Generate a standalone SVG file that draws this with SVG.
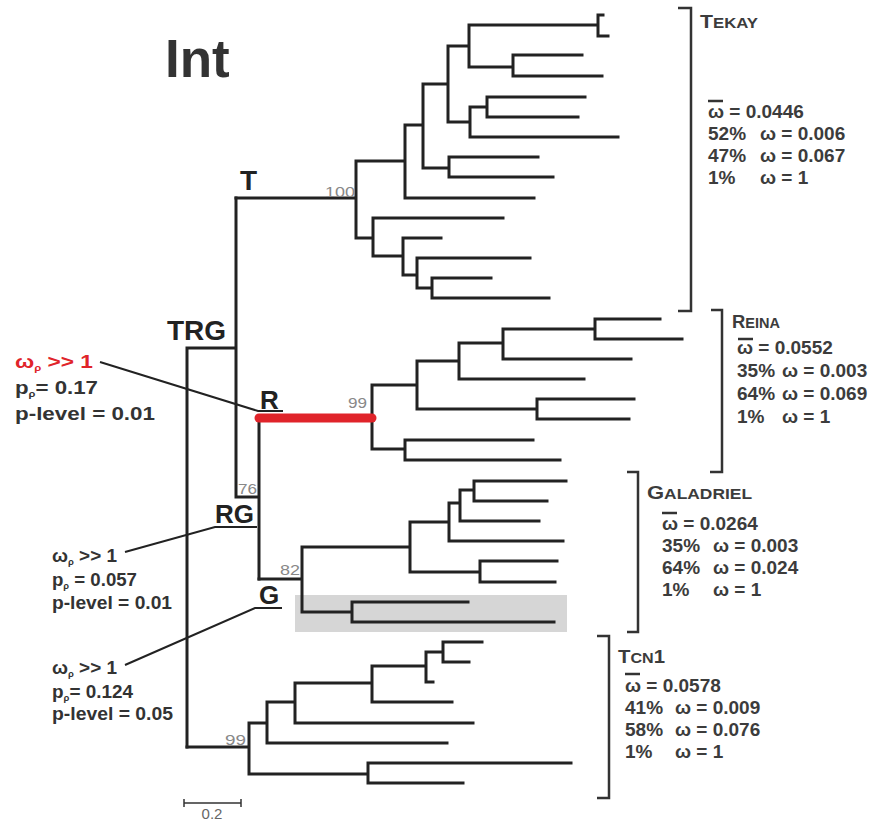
<svg xmlns="http://www.w3.org/2000/svg" width="881" height="824" viewBox="0 0 881 824">
<style>
.tree{fill:none;stroke:#222;stroke-width:3;stroke-linecap:square}
.red{fill:none;stroke:#e0242a;stroke-width:9;stroke-linecap:round}
.lead{fill:none;stroke:#222;stroke-width:2}
.brk{fill:none;stroke:#333;stroke-width:2.5}
.sup{font-family:"Liberation Sans",Arial,sans-serif;font-size:15px;fill:#888}
.node{font-family:"Liberation Sans",Arial,sans-serif;font-weight:bold;fill:#222}
.lab{font-family:"Liberation Sans",Arial,sans-serif;font-weight:bold;font-size:18px;fill:#333}
.stat{font-family:"Liberation Sans",Arial,sans-serif;font-weight:bold;font-size:19px;fill:#3c3c3c}
.hdr{font-family:"Liberation Sans",Arial,sans-serif;font-weight:bold;font-size:19px;fill:#3c3c3c}
.bar{fill:none;stroke:#333;stroke-width:1.5}
</style>
<rect width="881" height="824" fill="#fff"/>
<text x="165" y="77" font-family="Liberation Sans, Arial, sans-serif" font-weight="bold" font-size="53" fill="#333">Int</text>
<rect id="highlight" x="295" y="595" width="272" height="37" fill="#d6d6d6"/>
<g id="connectors">
<path class="tree" d="M187,348 V747 M187,348 H236 M236,198 V497 M236,497 H259 M259,418 V579"/>
<g id="clade-T">
<path class="tree" d="M236,198 H356 M356,161 V238 M356,161 H405 M405,125 V198 M405,198 H534 M405,125 H423 M423,84 V168 M423,84 H448 M448,46 V122 M448,46 H469 M469,25 V67 M469,25 H598 M598,15 V36 M598,15 H603 M598,36 H608 M469,67 H513 M513,55 V76 M513,55 H582 M513,76 H602 M448,122 H470 M470,107 V137 M470,107 H487 M487,97 V117 M487,97 H585 M487,117 H578 M470,137 H618 M423,168 H449 M449,157 V177 M449,157 H538 M449,177 H553 M356,238 H373 M373,218 V256 M373,218 H503 M373,256 H403 M403,238 V275 M403,238 H441 M403,275 H417 M417,258 V288 M417,258 H530 M417,288 H432 M432,278 V298 M432,278 H491 M432,298 H549"/>
</g>
<g id="clade-R">
<path class="tree" d="M372,385 V449 M372,385 H417 M417,361 V409 M417,361 H459 M459,343 V379 M459,343 H503 M503,329 V359 M503,329 H595 M595,319 V339 M595,319 H660 M595,339 H682 M503,359 H631 M459,379 H584 M417,409 H537 M537,399 V419 M537,399 H634 M537,419 H629 M372,449 H405 M405,440 V460 M405,440 H533 M405,460 H560"/>
<path class="red" d="M259,418 H372"/>
</g>
<g id="clade-G">
<path class="tree" d="M259,579 H302 M302,547 V612 M302,547 H410 M410,522 V572 M410,522 H449 M449,503 V541 M449,503 H460 M460,490 V521 M460,490 H474 M474,481 V501 M474,481 H566 M474,501 H547 M460,521 H539 M449,541 H563 M410,572 H480 M480,561 V582 M480,561 H557 M480,582 H555 M302,612 H352 M352,602 V622 M352,602 H468 M352,622 H554"/>
</g>
<g id="clade-Tcn1">
<path class="tree" d="M187,747 H249 M249,723 V774 M249,723 H267 M267,702 V743 M267,702 H295 M295,683 V723 M295,683 H372 M372,666 V702 M372,666 H426 M426,652 V682 M426,652 H443 M443,642 V662 M443,642 H482 M443,662 H469 M426,682 H433 M372,702 H452 M295,723 H473 M267,743 H447 M249,774 H368 M368,763 V783 M368,763 H571 M368,783 H463"/>
</g>
<polyline class="lead" points="100,362 258,411 283,411"/>
<polyline class="lead" points="125,552 215,527 257,527"/>
<polyline class="lead" points="125,665 255,608 282,608"/>
</g>
<g id="supports">
<text class="sup" x="325" y="197" textLength="30" lengthAdjust="spacingAndGlyphs">100</text>
<text class="sup" x="348" y="408" textLength="19" lengthAdjust="spacingAndGlyphs">99</text>
<text class="sup" x="238" y="494" textLength="19" lengthAdjust="spacingAndGlyphs">76</text>
<text class="sup" x="280" y="575" textLength="20" lengthAdjust="spacingAndGlyphs">82</text>
<text class="sup" x="225" y="745" textLength="21" lengthAdjust="spacingAndGlyphs">99</text>
</g>
<g id="node-T"><text class="node" x="240" y="190" font-size="28">T</text></g>
<g id="node-TRG"><text class="node" x="167" y="340" font-size="28">TRG</text></g>
<g id="node-R"><text class="node" x="260" y="409" font-size="26">R</text></g>
<g id="node-RG"><text class="node" x="215" y="523" font-size="26">RG</text></g>
<g id="node-G"><text class="node" x="259" y="604" font-size="26">G</text></g>
<g id="label-R">
<text class="lab" x="15" y="368" style="fill:#e0242a" textLength="78" lengthAdjust="spacingAndGlyphs">ω<tspan font-size="9" dy="3">ρ</tspan><tspan dy="-3"> &gt;&gt; 1</tspan></text>
<text class="lab" x="15" y="394" textLength="83" lengthAdjust="spacingAndGlyphs">p<tspan font-size="9" dy="3">ρ</tspan><tspan dy="-3">= 0.17</tspan></text>
<text class="lab" x="15" y="420" textLength="140" lengthAdjust="spacingAndGlyphs">p-level = 0.01</text>
</g>
<g id="label-RG">
<text class="lab" x="52" y="562" textLength="65" lengthAdjust="spacingAndGlyphs">ω<tspan font-size="9" dy="3">ρ</tspan><tspan dy="-3"> &gt;&gt; 1</tspan></text>
<text class="lab" x="52" y="586" textLength="85" lengthAdjust="spacingAndGlyphs">p<tspan font-size="9" dy="3">ρ</tspan><tspan dy="-3"> = 0.057</tspan></text>
<text class="lab" x="52" y="609" textLength="120" lengthAdjust="spacingAndGlyphs">p-level = 0.01</text>
</g>
<g id="label-G">
<text class="lab" x="52" y="674" textLength="65" lengthAdjust="spacingAndGlyphs">ω<tspan font-size="9" dy="3">ρ</tspan><tspan dy="-3"> &gt;&gt; 1</tspan></text>
<text class="lab" x="52" y="698" textLength="81" lengthAdjust="spacingAndGlyphs">p<tspan font-size="9" dy="3">ρ</tspan><tspan dy="-3">= 0.124</tspan></text>
<text class="lab" x="52" y="720" textLength="121" lengthAdjust="spacingAndGlyphs">p-level = 0.05</text>
</g>
<g id="group-Tekay">
<path class="brk" d="M678,8 H691 V311 H678"/>
<text class="hdr" x="700" y="28" textLength="58" lengthAdjust="spacingAndGlyphs">T<tspan font-size="15">EKAY</tspan></text>
<path class="brk" d="M708,101 H723" stroke-width="1.5"/>
<text class="stat" x="708" y="118">ω = 0.0446</text>
<text class="stat" x="708" y="140">52%</text><text class="stat" x="760" y="140">ω = 0.006</text>
<text class="stat" x="708" y="162">47%</text><text class="stat" x="760" y="162">ω = 0.067</text>
<text class="stat" x="708" y="184">1%</text><text class="stat" x="760" y="184">ω = 1</text>
</g>
<g id="group-Reina">
<path class="brk" d="M711,310 H722 V472 H710"/>
<text class="hdr" x="732" y="328" textLength="48" lengthAdjust="spacingAndGlyphs">R<tspan font-size="15">EINA</tspan></text>
<path class="brk" d="M738,339 H753" stroke-width="1.5"/>
<text class="stat" x="737" y="354">ω = 0.0552</text>
<text class="stat" x="737" y="377">35%</text><text class="stat" x="782" y="377">ω = 0.003</text>
<text class="stat" x="737" y="400">64%</text><text class="stat" x="782" y="400">ω = 0.069</text>
<text class="stat" x="737" y="423">1%</text><text class="stat" x="782" y="423">ω = 1</text>
</g>
<g id="group-Galadriel">
<path class="brk" d="M627,472 H638 V632 H627"/>
<text class="hdr" x="647" y="499" textLength="105" lengthAdjust="spacingAndGlyphs">G<tspan font-size="15">ALADRIEL</tspan></text>
<path class="brk" d="M662,513 H677" stroke-width="1.5"/>
<text class="stat" x="662" y="530">ω = 0.0264</text>
<text class="stat" x="662" y="552">35%</text><text class="stat" x="713" y="552">ω = 0.003</text>
<text class="stat" x="662" y="574">64%</text><text class="stat" x="713" y="574">ω = 0.024</text>
<text class="stat" x="662" y="596">1%</text><text class="stat" x="713" y="596">ω = 1</text>
</g>
<g id="group-Tcn1">
<path class="brk" d="M597,636 H609 V798 H597"/>
<text class="hdr" x="618" y="663" textLength="47" lengthAdjust="spacingAndGlyphs">T<tspan font-size="15">CN</tspan>1</text>
<path class="brk" d="M625,674 H640" stroke-width="1.5"/>
<text class="stat" x="625" y="692">ω = 0.0578</text>
<text class="stat" x="625" y="714">41%</text><text class="stat" x="675" y="714">ω = 0.009</text>
<text class="stat" x="625" y="736">58%</text><text class="stat" x="675" y="736">ω = 0.076</text>
<text class="stat" x="625" y="758">1%</text><text class="stat" x="675" y="758">ω = 1</text>
</g>
<g id="scale">
<path class="bar" d="M184,803 H241 M184,799 V807 M241,799 V807"/>
<text x="212" y="819" text-anchor="middle" font-family="Liberation Sans, Arial, sans-serif" font-size="15" fill="#666">0.2</text>
</g>
</svg>
